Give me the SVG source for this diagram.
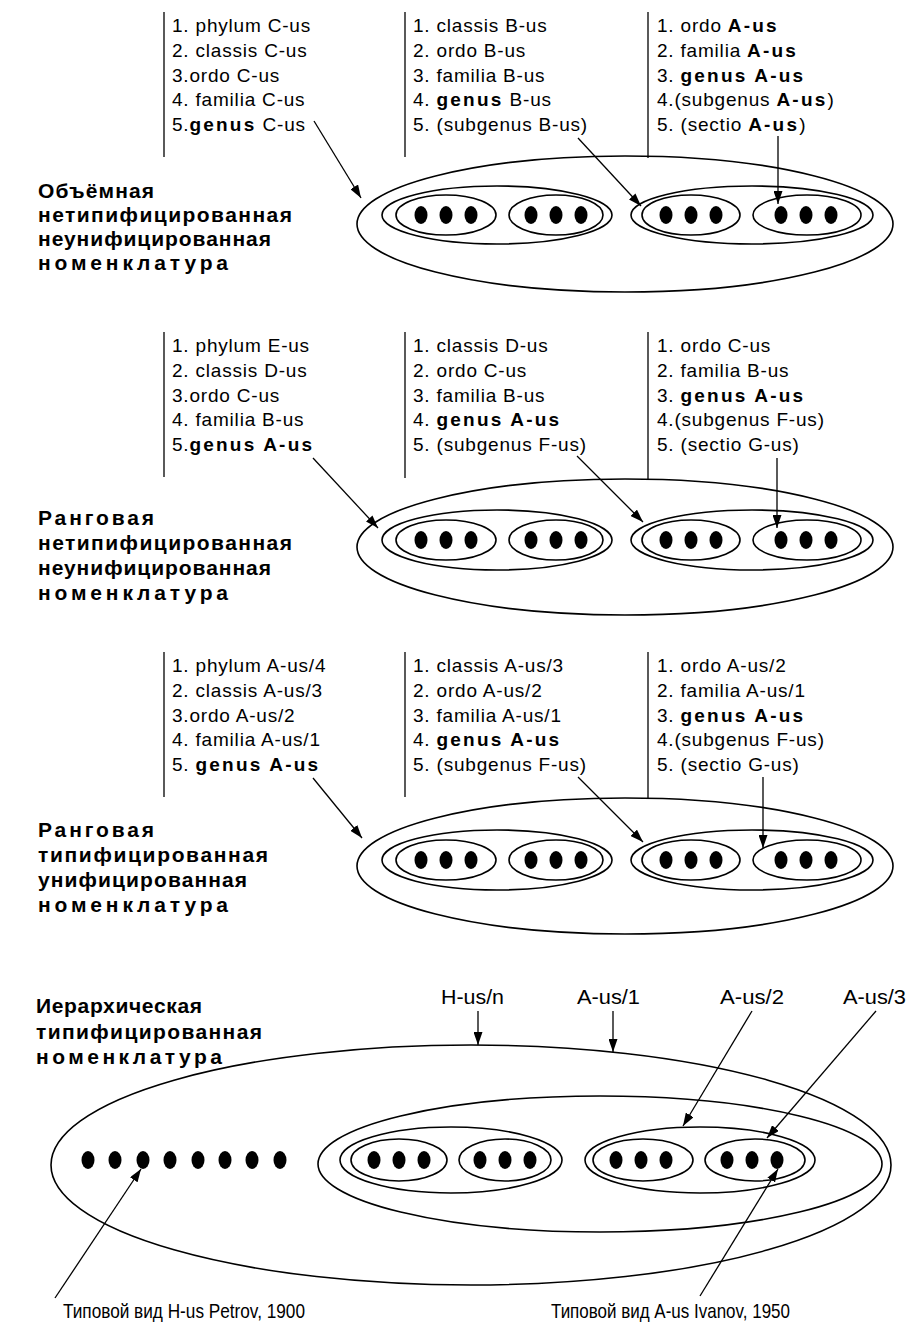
<svg xmlns="http://www.w3.org/2000/svg" width="913" height="1329" viewBox="0 0 913 1329">
<style>
.bg{fill:#fff}
.col{font-family:"Liberation Sans",Arial,sans-serif;font-size:19px;letter-spacing:0.8px;fill:#000}
.b{font-weight:bold;letter-spacing:2.2px}
.lab{font-family:"Liberation Sans",Arial,sans-serif;font-size:21px;font-weight:bold;fill:#000}
.nar{font-family:"Liberation Sans",Arial,sans-serif;font-size:21px;fill:#000}
.vl{stroke:#000;stroke-width:1.3;fill:none}
.el{stroke:#000;stroke-width:1.6;fill:none}
.dot{fill:#000}
.ar{stroke:#000;stroke-width:1.3;fill:none;marker-end:url(#ah)}
</style>
<defs>
<marker id="ah" viewBox="0 0 13 9" refX="13" refY="4.5" markerWidth="13" markerHeight="9" orient="auto" markerUnits="userSpaceOnUse"><path d="M0,0 L13,4.5 L0,9 z" fill="#000"/></marker>
<g id="trio"><ellipse class="dot" cx="-25" cy="0" rx="6.5" ry="9"/><ellipse class="dot" cx="0" cy="0" rx="6.5" ry="9"/><ellipse class="dot" cx="25" cy="0" rx="6.5" ry="9"/></g>
</defs>
<rect class="bg" x="0" y="0" width="913" height="1329"/>

<!-- Section 1 -->
<g id="sec1">
<g id="sec1-label"><text class="lab" x="38" y="198" textLength="116" lengthAdjust="spacing">Объёмная</text><text class="lab" x="38" y="222" textLength="254" lengthAdjust="spacing">нетипифицированная</text><text class="lab" x="38" y="246" textLength="233" lengthAdjust="spacing">неунифицированная</text><text class="lab" x="38" y="270" textLength="190" lengthAdjust="spacing">номенклатура</text></g>
<g id="sec1-col1"><line class="vl" x1="164" y1="12" x2="164" y2="157"/>
<text class="col" x="172" y="32">1. phylum C-us</text><text class="col" x="172" y="57">2. classis C-us</text><text class="col" x="172" y="82">3.ordo C-us</text><text class="col" x="172" y="106">4. familia C-us</text><text class="col" x="172" y="131">5.<tspan class="b">genus</tspan> C-us</text></g>
<g id="sec1-col2"><line class="vl" x1="405" y1="12" x2="405" y2="157"/>
<text class="col" x="413" y="32">1. classis B-us</text><text class="col" x="413" y="57">2. ordo B-us</text><text class="col" x="413" y="82">3. familia B-us</text><text class="col" x="413" y="106">4. <tspan class="b">genus</tspan> B-us</text><text class="col" x="413" y="131">5. (subgenus B-us)</text></g>
<g id="sec1-col3"><line class="vl" x1="648" y1="12" x2="648" y2="158"/>
<text class="col" x="657" y="32">1. ordo <tspan class="b">A-us</tspan></text><text class="col" x="657" y="57">2. familia <tspan class="b">A-us</tspan></text><text class="col" x="657" y="82">3. <tspan class="b">genus A-us</tspan></text><text class="col" x="657" y="106">4.(subgenus <tspan class="b">A-us</tspan>)</text><text class="col" x="657" y="131">5. (sectio <tspan class="b">A-us</tspan>)</text></g>
<g id="sec1-sets">
<ellipse class="el" cx="625" cy="224" rx="268" ry="68"/>
<ellipse class="el" cx="497" cy="215" rx="115" ry="29"/>
<ellipse class="el" cx="752" cy="215" rx="121" ry="29"/>
<ellipse class="el" cx="446" cy="215" rx="50" ry="20"/><use href="#trio" x="446" y="215"/>
<ellipse class="el" cx="556" cy="215" rx="47" ry="20"/><use href="#trio" x="556" y="215"/>
<ellipse class="el" cx="691" cy="215" rx="49" ry="20"/><use href="#trio" x="691" y="215"/>
<ellipse class="el" cx="807" cy="215" rx="54" ry="20"/><use href="#trio" x="806" y="215"/>
</g>
</g>

<!-- Section 2 -->
<g id="sec2">
<g id="sec2-label"><text class="lab" x="38" y="525" textLength="116" lengthAdjust="spacing">Ранговая</text><text class="lab" x="38" y="550" textLength="254" lengthAdjust="spacing">нетипифицированная</text><text class="lab" x="38" y="575" textLength="233" lengthAdjust="spacing">неунифицированная</text><text class="lab" x="38" y="600" textLength="190" lengthAdjust="spacing">номенклатура</text></g>
<g id="sec2-col1"><line class="vl" x1="164" y1="332" x2="164" y2="477"/>
<text class="col" x="172" y="352">1. phylum E-us</text><text class="col" x="172" y="377">2. classis D-us</text><text class="col" x="172" y="402">3.ordo C-us</text><text class="col" x="172" y="426">4. familia B-us</text><text class="col" x="172" y="451">5.<tspan class="b">genus A-us</tspan></text></g>
<g id="sec2-col2"><line class="vl" x1="405" y1="332" x2="405" y2="478"/>
<text class="col" x="413" y="352">1. classis D-us</text><text class="col" x="413" y="377">2. ordo C-us</text><text class="col" x="413" y="402">3. familia B-us</text><text class="col" x="413" y="426">4. <tspan class="b">genus A-us</tspan></text><text class="col" x="413" y="451">5. (subgenus F-us)</text></g>
<g id="sec2-col3"><line class="vl" x1="648" y1="332" x2="648" y2="480"/>
<text class="col" x="657" y="352">1. ordo C-us</text><text class="col" x="657" y="377">2. familia B-us</text><text class="col" x="657" y="402">3. <tspan class="b">genus  A-us</tspan></text><text class="col" x="657" y="426">4.(subgenus F-us)</text><text class="col" x="657" y="451">5. (sectio G-us)</text></g>
<g id="sec2-sets">
<ellipse class="el" cx="625" cy="547" rx="268" ry="68"/>
<ellipse class="el" cx="497" cy="540" rx="115" ry="30"/>
<ellipse class="el" cx="752" cy="540" rx="121" ry="30"/>
<ellipse class="el" cx="446" cy="540" rx="50" ry="20"/><use href="#trio" x="446" y="540"/>
<ellipse class="el" cx="556" cy="540" rx="47" ry="20"/><use href="#trio" x="556" y="540"/>
<ellipse class="el" cx="691" cy="540" rx="49" ry="20"/><use href="#trio" x="691" y="540"/>
<ellipse class="el" cx="807" cy="540" rx="54" ry="20"/><use href="#trio" x="806" y="540"/>
</g>
</g>

<!-- Section 3 -->
<g id="sec3">
<g id="sec3-label"><text class="lab" x="38" y="837" textLength="116" lengthAdjust="spacing">Ранговая</text><text class="lab" x="38" y="862" textLength="230" lengthAdjust="spacing">типифицированная</text><text class="lab" x="38" y="887" textLength="209" lengthAdjust="spacing">унифицированная</text><text class="lab" x="38" y="912" textLength="190" lengthAdjust="spacing">номенклатура</text></g>
<g id="sec3-col1"><line class="vl" x1="164" y1="652" x2="164" y2="797"/>
<text class="col" x="172" y="672">1. phylum A-us/4</text><text class="col" x="172" y="697">2. classis A-us/3</text><text class="col" x="172" y="722">3.ordo A-us/2</text><text class="col" x="172" y="746">4. familia A-us/1</text><text class="col" x="172" y="771">5. <tspan class="b">genus  A-us</tspan></text></g>
<g id="sec3-col2"><line class="vl" x1="405" y1="652" x2="405" y2="797"/>
<text class="col" x="413" y="672">1. classis A-us/3</text><text class="col" x="413" y="697">2. ordo A-us/2</text><text class="col" x="413" y="722">3. familia A-us/1</text><text class="col" x="413" y="746">4. <tspan class="b">genus  A-us</tspan></text><text class="col" x="413" y="771">5. (subgenus F-us)</text></g>
<g id="sec3-col3"><line class="vl" x1="648" y1="652" x2="648" y2="798"/>
<text class="col" x="657" y="672">1. ordo A-us/2</text><text class="col" x="657" y="697">2. familia A-us/1</text><text class="col" x="657" y="722">3. <tspan class="b">genus  A-us</tspan></text><text class="col" x="657" y="746">4.(subgenus F-us)</text><text class="col" x="657" y="771">5. (sectio G-us)</text></g>
<g id="sec3-sets">
<ellipse class="el" cx="625" cy="866" rx="268" ry="68"/>
<ellipse class="el" cx="497" cy="860" rx="115" ry="30"/>
<ellipse class="el" cx="752" cy="860" rx="121" ry="30"/>
<ellipse class="el" cx="446" cy="860" rx="50" ry="20"/><use href="#trio" x="446" y="860"/>
<ellipse class="el" cx="556" cy="860" rx="47" ry="20"/><use href="#trio" x="556" y="860"/>
<ellipse class="el" cx="691" cy="860" rx="49" ry="20"/><use href="#trio" x="691" y="860"/>
<ellipse class="el" cx="807" cy="860" rx="54" ry="20"/><use href="#trio" x="806" y="860"/>
</g>
</g>

<!-- Section 4 -->
<g id="sec4">
<g id="sec4-label"><text class="lab" x="36" y="1013" textLength="166" lengthAdjust="spacing">Иерархическая</text><text class="lab" x="36" y="1039" textLength="226" lengthAdjust="spacing">типифицированная</text><text class="lab" x="36" y="1064" textLength="186" lengthAdjust="spacing">номенклатура</text></g>
<g id="sec4-names"><text class="nar" x="441" y="1004" textLength="63" lengthAdjust="spacingAndGlyphs">H-us/n</text><text class="nar" x="577" y="1004" textLength="63" lengthAdjust="spacingAndGlyphs">A-us/1</text><text class="nar" x="720" y="1004" textLength="64" lengthAdjust="spacingAndGlyphs">A-us/2</text><text class="nar" x="843" y="1004" textLength="63" lengthAdjust="spacingAndGlyphs">A-us/3</text></g>
<g id="sec4-sets">
<ellipse class="el" cx="471" cy="1165" rx="420" ry="120"/>
<ellipse class="el" cx="600" cy="1164" rx="282" ry="68"/>
<ellipse class="el" cx="451" cy="1160" rx="111" ry="33"/>
<ellipse class="el" cx="700" cy="1160" rx="115" ry="33"/>
<ellipse class="el" cx="399" cy="1160" rx="48" ry="21"/><use href="#trio" x="399" y="1160"/>
<ellipse class="el" cx="505" cy="1160" rx="46" ry="21"/><use href="#trio" x="505" y="1160"/>
<ellipse class="el" cx="643" cy="1160" rx="50" ry="21"/><use href="#trio" x="641" y="1160"/>
<ellipse class="el" cx="755" cy="1160" rx="50" ry="21"/><use href="#trio" x="752" y="1160"/>
</g>
<g id="sec4-species">
<ellipse class="dot" cx="88" cy="1160" rx="6.5" ry="9"/><ellipse class="dot" cx="115" cy="1160" rx="6.5" ry="9"/><ellipse class="dot" cx="143" cy="1160" rx="6.5" ry="9"/><ellipse class="dot" cx="170" cy="1160" rx="6.5" ry="9"/><ellipse class="dot" cx="198" cy="1160" rx="6.5" ry="9"/><ellipse class="dot" cx="225" cy="1160" rx="6.5" ry="9"/><ellipse class="dot" cx="252" cy="1160" rx="6.5" ry="9"/><ellipse class="dot" cx="280" cy="1160" rx="6.5" ry="9"/>
</g>
<g id="sec4-types"><text class="nar" x="63" y="1318" textLength="242" lengthAdjust="spacingAndGlyphs">Типовой вид H-us Petrov, 1900</text><text class="nar" x="551" y="1318" textLength="239" lengthAdjust="spacingAndGlyphs">Типовой вид A-us Ivanov, 1950</text></g>
</g>

<g id="connectors">
<line class="ar" x1="314" y1="121" x2="361" y2="198"/>
<line class="ar" x1="578" y1="138" x2="641" y2="206"/>
<line class="ar" x1="778" y1="136" x2="778" y2="204"/>
<line class="ar" x1="313" y1="458" x2="378" y2="528"/>
<line class="ar" x1="577" y1="456" x2="643" y2="522"/>
<line class="ar" x1="777" y1="458" x2="777" y2="528"/>
<line class="ar" x1="313" y1="778" x2="362" y2="838"/>
<line class="ar" x1="578" y1="777" x2="643" y2="842"/>
<line class="ar" x1="763" y1="777" x2="763" y2="848"/>
<line class="ar" x1="478" y1="1011" x2="478" y2="1045"/>
<line class="ar" x1="613" y1="1011" x2="613" y2="1052"/>
<line class="ar" x1="752" y1="1011" x2="683" y2="1126"/>
<line class="ar" x1="876" y1="1011" x2="767" y2="1138"/>
<line class="ar" x1="55" y1="1298" x2="141" y2="1169"/>
<line class="ar" x1="700" y1="1296" x2="778" y2="1169"/>
</g>
</svg>
